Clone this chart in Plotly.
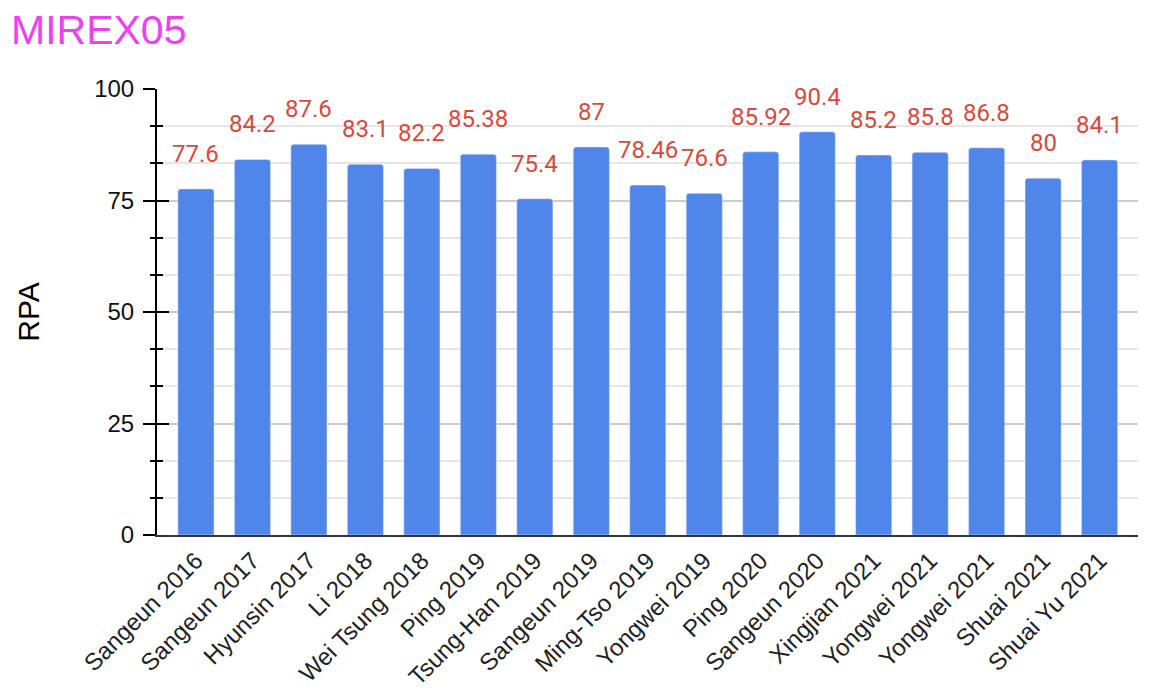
import plotly.graph_objects as go

categories = ["Sangeun 2016", "Sangeun 2017", "Hyunsin 2017", "Li 2018", "Wei Tsung 2018",
              "Ping 2019", "Tsung-Han 2019", "Sangeun 2019", "Ming-Tso 2019", "Yongwei 2019",
              "Ping 2020", "Sangeun 2020", "Xingjian 2021", "Yongwei 2021", "Yongwei 2021",
              "Shuai 2021", "Shuai Yu 2021"]
values = [77.6, 84.2, 87.6, 83.1, 82.2, 85.38, 75.4, 87, 78.46, 76.6,
          85.92, 90.4, 85.2, 85.8, 86.8, 80, 84.1]
labels = ["77.6", "84.2", "87.6", "83.1", "82.2", "85.38", "75.4", "87", "78.46", "76.6",
          "85.92", "90.4", "85.2", "85.8", "86.8", "80", "84.1"]
y_ticks = [0, 25, 50, 75, 100]

BAR = "#5086e9"
LABEL = "#d9493a"
FONT = "Liberation Sans, Arial"

positions = list(range(len(categories)))

fig = go.Figure()
fig.add_trace(go.Bar(x=positions, y=values, marker=dict(color=BAR, cornerradius=3),
                     width=0.64, hoverinfo="skip"))

for i, (v, t) in enumerate(zip(values, labels)):
    fig.add_annotation(x=i, y=v, text=t, showarrow=False, yanchor="bottom", yshift=19,
                       font=dict(family="Roboto", size=24, color=LABEL))

fig.update_layout(
    width=1146, height=682,
    margin=dict(l=149, r=16, t=81, b=155),
    paper_bgcolor="white", plot_bgcolor="white",
    showlegend=False,
    title=dict(text="MIREX05", x=3 / 1146, xref="container", xanchor="left",
               y=0.968, yref="container", yanchor="middle",
               font=dict(family=FONT, size=41, color="#ee3ff0")),
    xaxis=dict(range=[-0.69, 16.68], tickmode="array", tickvals=positions,
               ticktext=categories, tickangle=-45, automargin=False,
               tickfont=dict(family=FONT, size=24, color="#222"),
               showgrid=False, showline=True, linecolor="#333", linewidth=2, ticks="", zeroline=False),
    yaxis=dict(range=[0, 100], tickvals=y_ticks, automargin=False,
               tickfont=dict(family=FONT, size=24, color="#111"), ticklabelstandoff=4,
               showgrid=True, gridcolor="#cccccc", gridwidth=1.5,
               showline=True, linecolor="black", linewidth=2,
               ticks="outside", ticklen=12, tickwidth=2, tickcolor="black",
               minor=dict(dtick=25 / 3, tick0=0, showgrid=True, gridcolor="#e6e6e6", gridwidth=1.5,
                          ticks="outside", ticklen=5, tickwidth=2, tickcolor="black"),
               zeroline=False,
               title=dict(text="RPA", font=dict(family=FONT, size=30, color="black"),
                          standoff=46)),
    yaxis2=dict(range=[0, 100], overlaying="y", side="left", tickvals=y_ticks, automargin=False,
                showticklabels=False, showgrid=False, showline=False, zeroline=False,
                ticks="inside", ticklen=12, tickwidth=2, tickcolor="black",
                minor=dict(dtick=25 / 3, tick0=0, ticks="inside", ticklen=6, tickwidth=2,
                           tickcolor="black", showgrid=False)),
)
# invisible trace to activate yaxis2 (inner half of the crossing ticks)
fig.add_trace(go.Scatter(x=[0], y=[0], yaxis="y2", mode="markers", marker=dict(opacity=0),
                         hoverinfo="skip", showlegend=False))

fig.write_html("out.html")
